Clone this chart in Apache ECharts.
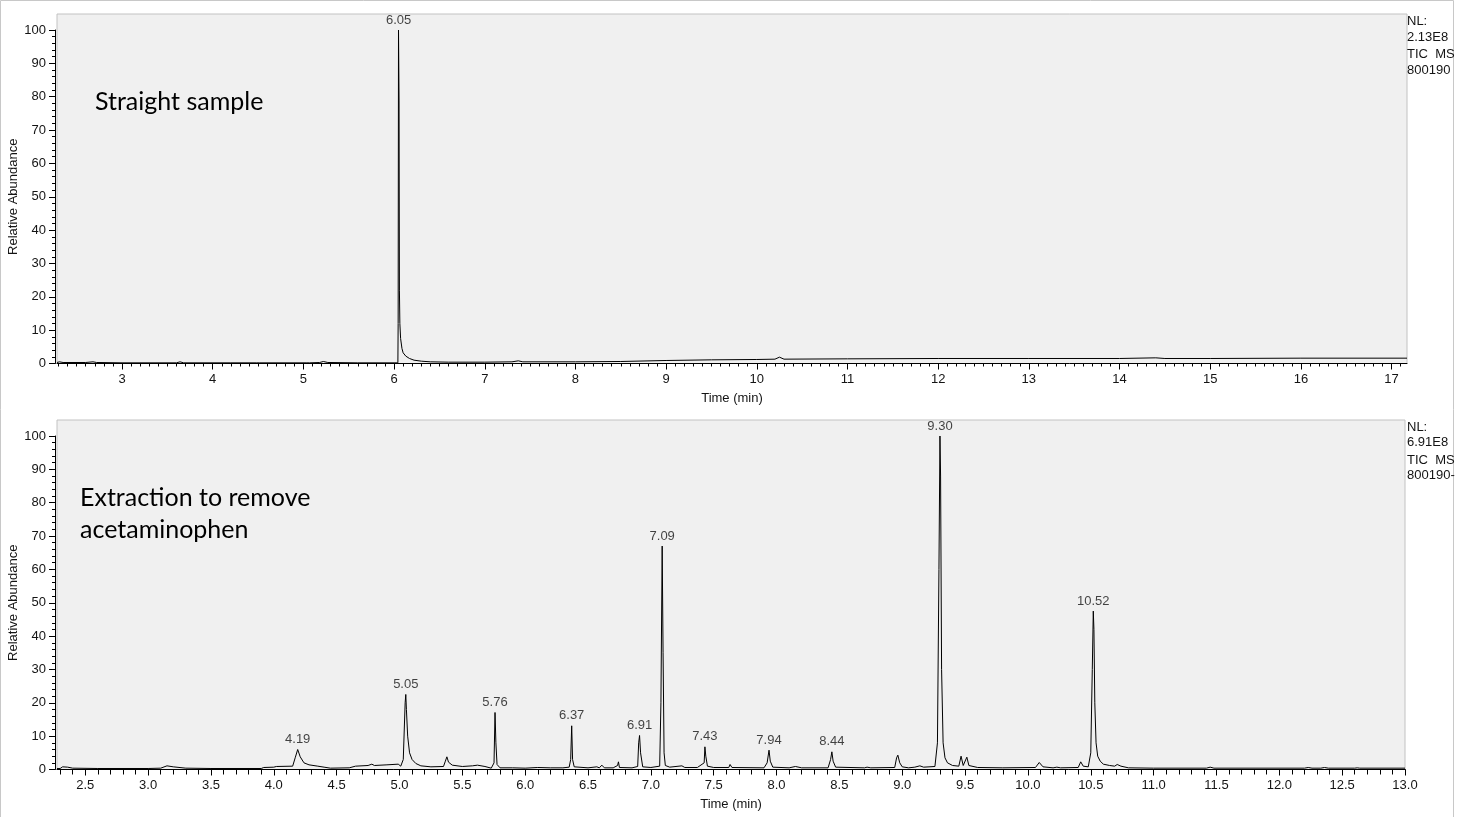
<!DOCTYPE html>
<html>
<head>
<meta charset="utf-8">
<script src="https://cdn.jsdelivr.net/npm/echarts@6/dist/echarts.min.js"></script>
<style>
html,body{margin:0;padding:0;background:#fff;}
#c{width:1457px;height:817px;}
</style>
</head>
<body>
<div id="c"></div>
<script>
// ---------- DATA ----------
const topXTicks = [3,4,5,6,7,8,9,10,11,12,13,14,15,16,17];
const bottomXTicks = [2.5,3.0,3.5,4.0,4.5,5.0,5.5,6.0,6.5,7.0,7.5,8.0,8.5,9.0,9.5,10.0,10.5,11.0,11.5,12.0,12.5,13.0];
const topRange = [2.283, 17.17];
const bottomRange = [2.275, 13.0];

// Straight sample trace [time (min), relative abundance]
const topTrace = [
 [2.283,0.3],[2.31,0.5],[2.35,0.3],[2.6,0.3],[2.68,0.5],[2.72,0.3],[3.0,0.2],[3.6,0.2],[3.64,0.5],[3.68,0.2],
 [4.2,0.2],[4.48,0.2],[4.5,0.4],[4.52,0.2],[5.03,0.2],[5.05,0.4],[5.07,0.2],[5.18,0.3],[5.22,0.6],[5.27,0.3],
 [5.6,0.2],[6.0,0.2],[6.042,0.2],[6.045,12],[6.049,100],[6.052,100],[6.055,79],[6.059,22],[6.064,12],[6.072,7.5],[6.087,4.5],
 [6.1,3.2],[6.13,2.2],[6.17,1.5],[6.22,1.0],[6.3,0.7],[6.4,0.5],[6.6,0.4],[7.0,0.4],[7.3,0.5],[7.37,0.8],
 [7.42,0.5],[8.0,0.5],[8.5,0.6],[9.0,0.9],[9.5,1.1],[10.0,1.2],[10.2,1.3],[10.25,1.9],[10.3,1.3],[11.0,1.4],
 [12.0,1.5],[13.0,1.5],[14.0,1.5],[14.4,1.7],[14.5,1.5],[15.0,1.5],[16.0,1.6],[17.17,1.6]
];
const topPeaks = [[6.05,100]];

// Extraction trace [time (min), relative abundance]
const bottomTrace = [
 [2.275,0.3],[2.3,0.3],[2.32,0.8],[2.36,0.7],[2.4,0.4],[2.6,0.3],[3.0,0.3],[3.1,0.4],[3.15,1.1],[3.2,0.8],
 [3.3,0.4],[3.5,0.3],[3.9,0.3],[3.92,0.6],[4.0,0.7],[4.02,0.9],[4.15,1.0],[4.17,3.5],[4.19,6.0],[4.21,3.8],
 [4.24,2.0],[4.28,1.4],[4.35,1.0],[4.4,0.7],[4.45,0.4],[4.6,0.5],[4.65,1.0],[4.75,1.2],[4.78,1.6],[4.8,1.2],
 [4.9,1.4],[4.99,1.6],[5.01,1.0],[5.03,3],[5.045,20],[5.05,22.5],[5.055,18],[5.065,10],[5.08,5],[5.1,3],
 [5.13,1.8],[5.17,1.1],[5.25,0.8],[5.35,0.9],[5.365,2.5],[5.377,3.8],[5.39,2.2],[5.42,1.3],[5.5,0.9],[5.58,1.1],
 [5.62,1.3],[5.68,0.9],[5.73,0.4],[5.752,2],[5.76,17.1],[5.767,8],[5.776,1.5],[5.8,0.5],[5.9,0.5],[6.0,0.4],
 [6.1,0.6],[6.2,0.5],[6.3,0.5],[6.35,0.7],[6.362,3],[6.37,13.1],[6.377,3],[6.39,0.8],[6.5,0.5],[6.57,0.8],
 [6.59,0.5],[6.61,1.3],[6.63,0.5],[6.7,0.5],[6.735,1.2],[6.742,2.3],[6.75,0.6],[6.85,0.5],[6.895,0.9],[6.903,8],
 [6.91,10.2],[6.918,5],[6.935,0.8],[7.0,0.6],[7.07,1.0],[7.08,20],[7.09,67],[7.097,35],[7.105,5],[7.115,1.2],
 [7.15,0.7],[7.247,1.1],[7.27,0.6],[7.37,0.6],[7.424,2],[7.43,6.8],[7.437,4],[7.45,1.0],[7.5,0.6],[7.62,0.6],
 [7.63,1.5],[7.645,0.6],[7.9,0.5],[7.925,2],[7.94,5.8],[7.95,2.5],[7.97,0.7],[8.1,0.5],[8.15,0.9],[8.2,0.5],
 [8.41,0.5],[8.43,3],[8.44,5.3],[8.45,2.5],[8.47,0.7],[8.7,0.5],[8.72,0.7],[8.75,0.5],[8.94,0.6],[8.955,3.5],
 [8.965,4.3],[8.98,2],[9.0,0.8],[9.05,0.5],[9.1,0.7],[9.14,1.1],[9.17,0.7],[9.26,0.9],[9.28,8],[9.292,60],
 [9.3,100],[9.305,88],[9.313,30],[9.325,8],[9.34,3.5],[9.36,2],[9.4,1.2],[9.45,1.0],[9.468,4.0],[9.485,1.2],
 [9.5,1.5],[9.514,3.7],[9.53,1.2],[9.6,0.6],[9.8,0.5],[10.06,0.6],[10.09,2.1],[10.12,0.8],[10.2,0.5],[10.23,0.7],
 [10.26,0.5],[10.4,0.6],[10.42,2.3],[10.44,1.0],[10.48,0.8],[10.5,5],[10.512,30],[10.52,47.5],[10.525,42],[10.532,20],
 [10.542,8],[10.555,4],[10.575,2.5],[10.6,1.6],[10.65,1.2],[10.69,1.0],[10.71,1.5],[10.74,1.0],[10.8,0.5],[11.0,0.4],
 [11.42,0.4],[11.45,0.7],[11.48,0.4],[12.2,0.4],[12.23,0.6],[12.26,0.4],[12.33,0.4],[12.36,0.6],[12.39,0.4],[12.6,0.4],
 [12.62,0.5],[12.64,0.4],[13.0,0.4]
];
const bottomPeaks = [[4.19,6.0],[5.05,22.5],[5.76,17.1],[6.37,13.1],[6.91,10.2],[7.09,67],[7.43,6.8],[7.94,5.8],[8.44,5.3],[9.30,100],[10.52,47.5]];

const topInfo = ['NL:', '2.13E8', 'TIC  MS', '800190'];
const bottomInfo = ['NL:', '6.91E8', 'TIC  MS', '800190-'];
const topNote = ['Straight sample'];
const bottomNote = ['Extraction to remove', 'acetaminophen'];

// ---------- helpers ----------
function minorTicks(a, b) {
  const out = [];
  for (let i = Math.ceil(a * 10); i <= Math.floor(b * 10 + 1e-9); i++) out.push(i / 10);
  return out;
}
const FONT = '"Liberation Sans", Arial, sans-serif';
const TXT = '#141414';

function frameAxes(gi) {
  return {
    x: {gridIndex: gi, type: 'value', show: false, min: 0, max: 1},
    y: {gridIndex: gi, type: 'value', show: false, min: 0, max: 1}
  };
}
function mainX(gi, range, ticks, dec, tickLen) {
  return {
    gridIndex: gi, type: 'value', min: range[0], max: range[1], position: 'bottom',
    name: 'Time (min)', nameLocation: 'middle', nameGap: 28, nameMoveOverlap: false,
    nameTextStyle: {fontFamily: FONT, fontSize: 13, color: TXT},
    axisLine: {show: true, onZero: false, lineStyle: {color: '#000', width: 1}},
    axisTick: {show: true, customValues: ticks, length: tickLen, lineStyle: {color: '#000'}},
    axisLabel: {show: true, customValues: ticks, margin: 9, fontFamily: FONT, fontSize: 13, color: TXT,
      formatter: v => Number(v).toFixed(dec)},
    splitLine: {show: false}
  };
}
function minorX(gi, range, len) {
  return {
    gridIndex: gi, type: 'value', min: range[0], max: range[1], position: 'bottom',
    axisLine: {show: false},
    axisTick: {show: true, customValues: minorTicks(range[0], range[1]), length: len, lineStyle: {color: '#000'}},
    axisLabel: {show: false},
    splitLine: {show: false}
  };
}
function mainY(gi) {
  return {
    gridIndex: gi, type: 'value', min: 0, max: 100, interval: 10, offset: 2,
    name: 'Relative Abundance', nameLocation: 'middle', nameGap: 35, nameRotate: 90, nameMoveOverlap: false,
    nameTextStyle: {fontFamily: FONT, fontSize: 13, color: TXT},
    axisLine: {show: true, lineStyle: {color: '#000', width: 1}},
    axisTick: {show: true, length: 6, lineStyle: {color: '#000'}},
    minorTick: {show: true, splitNumber: 5, length: 3, lineStyle: {color: '#000'}},
    axisLabel: {margin: 9, fontFamily: FONT, fontSize: 13, color: TXT},
    splitLine: {show: false}
  };
}
function traceSeries(xi, yi, data) {
  return {type: 'line', xAxisIndex: xi, yAxisIndex: yi, data: data, showSymbol: false, symbol: 'none',
    lineStyle: {color: '#000', width: 1}, silent: true, animation: false, z: 3};
}
function peakSeries(xi, yi, data) {
  return {type: 'scatter', xAxisIndex: xi, yAxisIndex: yi, data: data, symbolSize: 1,
    itemStyle: {color: 'rgba(0,0,0,0)'}, silent: true, animation: false, z: 4,
    label: {show: true, position: 'top', distance: 3, fontFamily: FONT, fontSize: 13, color: TXT,
      formatter: p => p.value[0].toFixed(2)}};
}
function infoTexts(lines, x, tops) {
  return lines.map((t, i) => ({type: 'text', x: x, y: tops[i], silent: true,
    style: {text: t, font: '13px ' + FONT, fill: TXT, textAlign: 'left', textVerticalAlign: 'top'}}));
}
function noteTexts(lines, x, y0, step) {
  return lines.map((t, i) => ({type: 'text', x: x, y: y0 + i * step, silent: true,
    style: {text: t, font: '25px Lato, "Open Sans", sans-serif', fill: '#000', textAlign: 'left', textVerticalAlign: 'top'}}));
}

const fT = frameAxes(0), fB = frameAxes(2);
const option = {
  backgroundColor: '#fff',
  animation: false,
  grid: [
    {left: 57, right: 50, top: 14, height: 349.5, show: true, backgroundColor: '#f0f0f0', borderColor: '#c2c2c2', borderWidth: 1, outerBoundsMode: 'none', containLabel: false},
    {left: 57, right: 50, top: 30, height: 333.5, show: false, outerBoundsMode: 'none', containLabel: false},
    {left: 57, right: 52, top: 420, height: 349.5, show: true, backgroundColor: '#f0f0f0', borderColor: '#c2c2c2', borderWidth: 1, outerBoundsMode: 'none', containLabel: false},
    {left: 57, right: 52, top: 436, height: 333.5, show: false, outerBoundsMode: 'none', containLabel: false}
  ],
  xAxis: [
    fT.x,
    mainX(1, topRange, topXTicks, 0, 6),
    minorX(1, topRange, 3),
    fB.x,
    mainX(3, bottomRange, bottomXTicks, 1, 6),
    minorX(3, bottomRange, 5)
  ],
  yAxis: [fT.y, mainY(1), fB.y, mainY(3)],
  series: [
    traceSeries(1, 1, topTrace),
    peakSeries(1, 1, topPeaks),
    traceSeries(4, 3, bottomTrace),
    peakSeries(4, 3, bottomPeaks)
  ],
  graphic: {elements: [
    {type: 'rect', shape: {x: 0.5, y: 0.5, width: 1453, height: 830}, style: {fill: null, stroke: '#c8c8c8', lineWidth: 1}, silent: true, z: -1},
    ...infoTexts(topInfo, 1407, [15, 31, 48, 64]),
    ...infoTexts(bottomInfo, 1407, [421, 436, 454, 469]),
    ...noteTexts(topNote, 95, 89, 32),
    ...noteTexts(bottomNote, 80, 485, 32)
  ]}
};
const chart = echarts.init(document.getElementById('c'), null, {renderer: 'canvas'});
chart.setOption(option);
</script>
</body>
</html>
